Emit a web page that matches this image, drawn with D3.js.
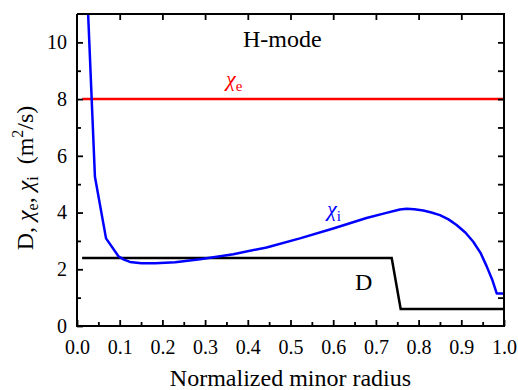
<!DOCTYPE html>
<html>
<head>
<meta charset="utf-8">
<script src="https://cdn.jsdelivr.net/npm/d3@7"></script>
<style>
  body { margin: 0; background: #fff; }
  svg text { font-family: "Liberation Serif", "Times New Roman", serif; }
  .chi { font-style: italic; }
</style>
</head>
<body>
<svg id="chart" width="518" height="390"></svg>
<script>
// data
var chiE = [[0.012, 8.0], [1.0, 8.0]];
var diffD = [[0.012, 2.4], [0.737, 2.4], [0.758, 0.6], [1.0, 0.6]];
var chiI = [
  [0.0255, 11.2], [0.042, 5.26], [0.068, 3.09], [0.097, 2.46], [0.11, 2.34],
  [0.124, 2.26], [0.151, 2.21], [0.183, 2.21], [0.23, 2.25], [0.288, 2.35],
  [0.366, 2.53], [0.444, 2.77], [0.522, 3.09], [0.600, 3.44], [0.678, 3.81],
  [0.72, 3.97], [0.756, 4.11], [0.772, 4.13], [0.79, 4.12], [0.811, 4.07],
  [0.83, 4.0], [0.850, 3.91], [0.87, 3.76], [0.889, 3.56], [0.91, 3.29],
  [0.928, 2.97], [0.945, 2.58], [0.959, 2.12], [0.972, 1.65], [0.983, 1.15],
  [1.0, 1.15]
];
var xTicks = [0, 0.1, 0.2, 0.3, 0.4, 0.5, 0.6, 0.7, 0.8, 0.9, 1.0];
var xMinor = [0.05, 0.15, 0.25, 0.35, 0.45, 0.55, 0.65, 0.75, 0.85, 0.95];
var yTicks = [0, 2, 4, 6, 8, 10];
var yMinor = [1, 3, 5, 7, 9];

var svg = d3.select("#chart");
var pL = 77, pR = 504, pT = 14, pB = 326;
var serif = "Liberation Serif, Times New Roman, serif";

var x = d3.scaleLinear().domain([0, 1]).range([pL, pR]);
var y = d3.scaleLinear().domain([0, 11]).range([pB, pT]);

svg.append("defs").append("clipPath").attr("id", "clip")
  .append("rect").attr("x", pL).attr("y", pT)
  .attr("width", pR - pL).attr("height", pB - pT);

var line = d3.line().x(d => x(d[0])).y(d => y(d[1]));

var plot = svg.append("g").attr("clip-path", "url(#clip)");
plot.append("path").datum(chiE).attr("d", line)
  .attr("fill", "none").attr("stroke", "#ff0000").attr("stroke-width", 2.5);
plot.append("path").datum(diffD).attr("d", line)
  .attr("fill", "none").attr("stroke", "#000").attr("stroke-width", 2.5);
plot.append("path").datum(chiI).attr("d", line)
  .attr("fill", "none").attr("stroke", "#0000ff").attr("stroke-width", 2.5)
  .attr("stroke-linejoin", "round");

// axes, ticks pointing inward
function styleAxis(g) {
  g.attr("font-family", serif).attr("font-size", 20);
  g.select(".domain").remove();
  g.selectAll("line").attr("stroke", "#000").attr("stroke-width", 1.8);
  g.selectAll("text").attr("fill", "#000");
}

svg.append("g").attr("transform", "translate(0," + pB + ")")
  .call(d3.axisBottom(x).tickValues(xTicks).tickFormat(d3.format(".1f"))
    .tickSizeInner(-6).tickSizeOuter(0).tickPadding(14))
  .call(styleAxis);
svg.append("g").attr("transform", "translate(0," + pB + ")")
  .call(d3.axisBottom(x).tickValues(xMinor).tickFormat("").tickSizeInner(-4).tickSizeOuter(0))
  .call(styleAxis);

svg.append("g").attr("transform", "translate(0," + pT + ")")
  .call(d3.axisTop(x).tickValues(xTicks.slice(1, -1)).tickFormat("").tickSizeInner(-6).tickSizeOuter(0))
  .call(styleAxis);

svg.append("g").attr("transform", "translate(" + pL + ",0)")
  .call(d3.axisLeft(y).tickValues(yTicks).tickFormat(d3.format("d"))
    .tickSizeInner(-6).tickSizeOuter(0).tickPadding(10))
  .call(styleAxis);
svg.append("g").attr("transform", "translate(" + pL + ",0)")
  .call(d3.axisLeft(y).tickValues(yMinor).tickFormat("").tickSizeInner(-4).tickSizeOuter(0))
  .call(styleAxis);

svg.append("g").attr("transform", "translate(" + pR + ",0)")
  .call(d3.axisRight(y).tickValues(yTicks.slice(1).concat(yMinor)).tickFormat("")
    .tickSizeInner(-6).tickSizeOuter(0))
  .call(styleAxis);

// frame
svg.append("path")
  .attr("d", "M" + pL + "," + pT + "V" + pB + "H" + pR + "V" + pT + "H" + pL)
  .attr("fill", "none").attr("stroke", "#000").attr("stroke-width", 2);

// annotations
svg.append("text").attr("x", 243).attr("y", 47).style("font-size", "24px").text("H-mode");

var te = svg.append("text").attr("x", 226).attr("y", 86).attr("fill", "#ff0000").style("font-size", "22px");
te.append("tspan").attr("class", "chi").text("χ");
te.append("tspan").attr("dy", 5).style("font-size", "15px").text("e");

var ti = svg.append("text").attr("x", 327).attr("y", 216).attr("fill", "#0000ff").style("font-size", "22px");
ti.append("tspan").attr("class", "chi").text("χ");
ti.append("tspan").attr("dy", 5).style("font-size", "15px").text("i");

svg.append("text").attr("x", 355).attr("y", 290).style("font-size", "24px").text("D");

svg.append("text").attr("x", (pL + pR) / 2).attr("y", 386)
  .attr("text-anchor", "middle").style("font-size", "24px").text("Normalized minor radius");

var yl = svg.append("text").attr("transform", "translate(33,178) rotate(-90)")
  .attr("text-anchor", "middle").style("font-size", "24px");
yl.append("tspan").text("D, ");
yl.append("tspan").attr("class", "chi").text("χ");
yl.append("tspan").attr("dy", 5).style("font-size", "16px").text("e");
yl.append("tspan").attr("dy", -5).text(", ");
yl.append("tspan").attr("class", "chi").text("χ");
yl.append("tspan").attr("dy", 5).style("font-size", "16px").text("i");
yl.append("tspan").attr("dy", -5).text("\u00a0\u00a0(m");
yl.append("tspan").attr("dy", -10).style("font-size", "16px").text("2");
yl.append("tspan").attr("dy", 10).text("/s)");
</script>
</body>
</html>
